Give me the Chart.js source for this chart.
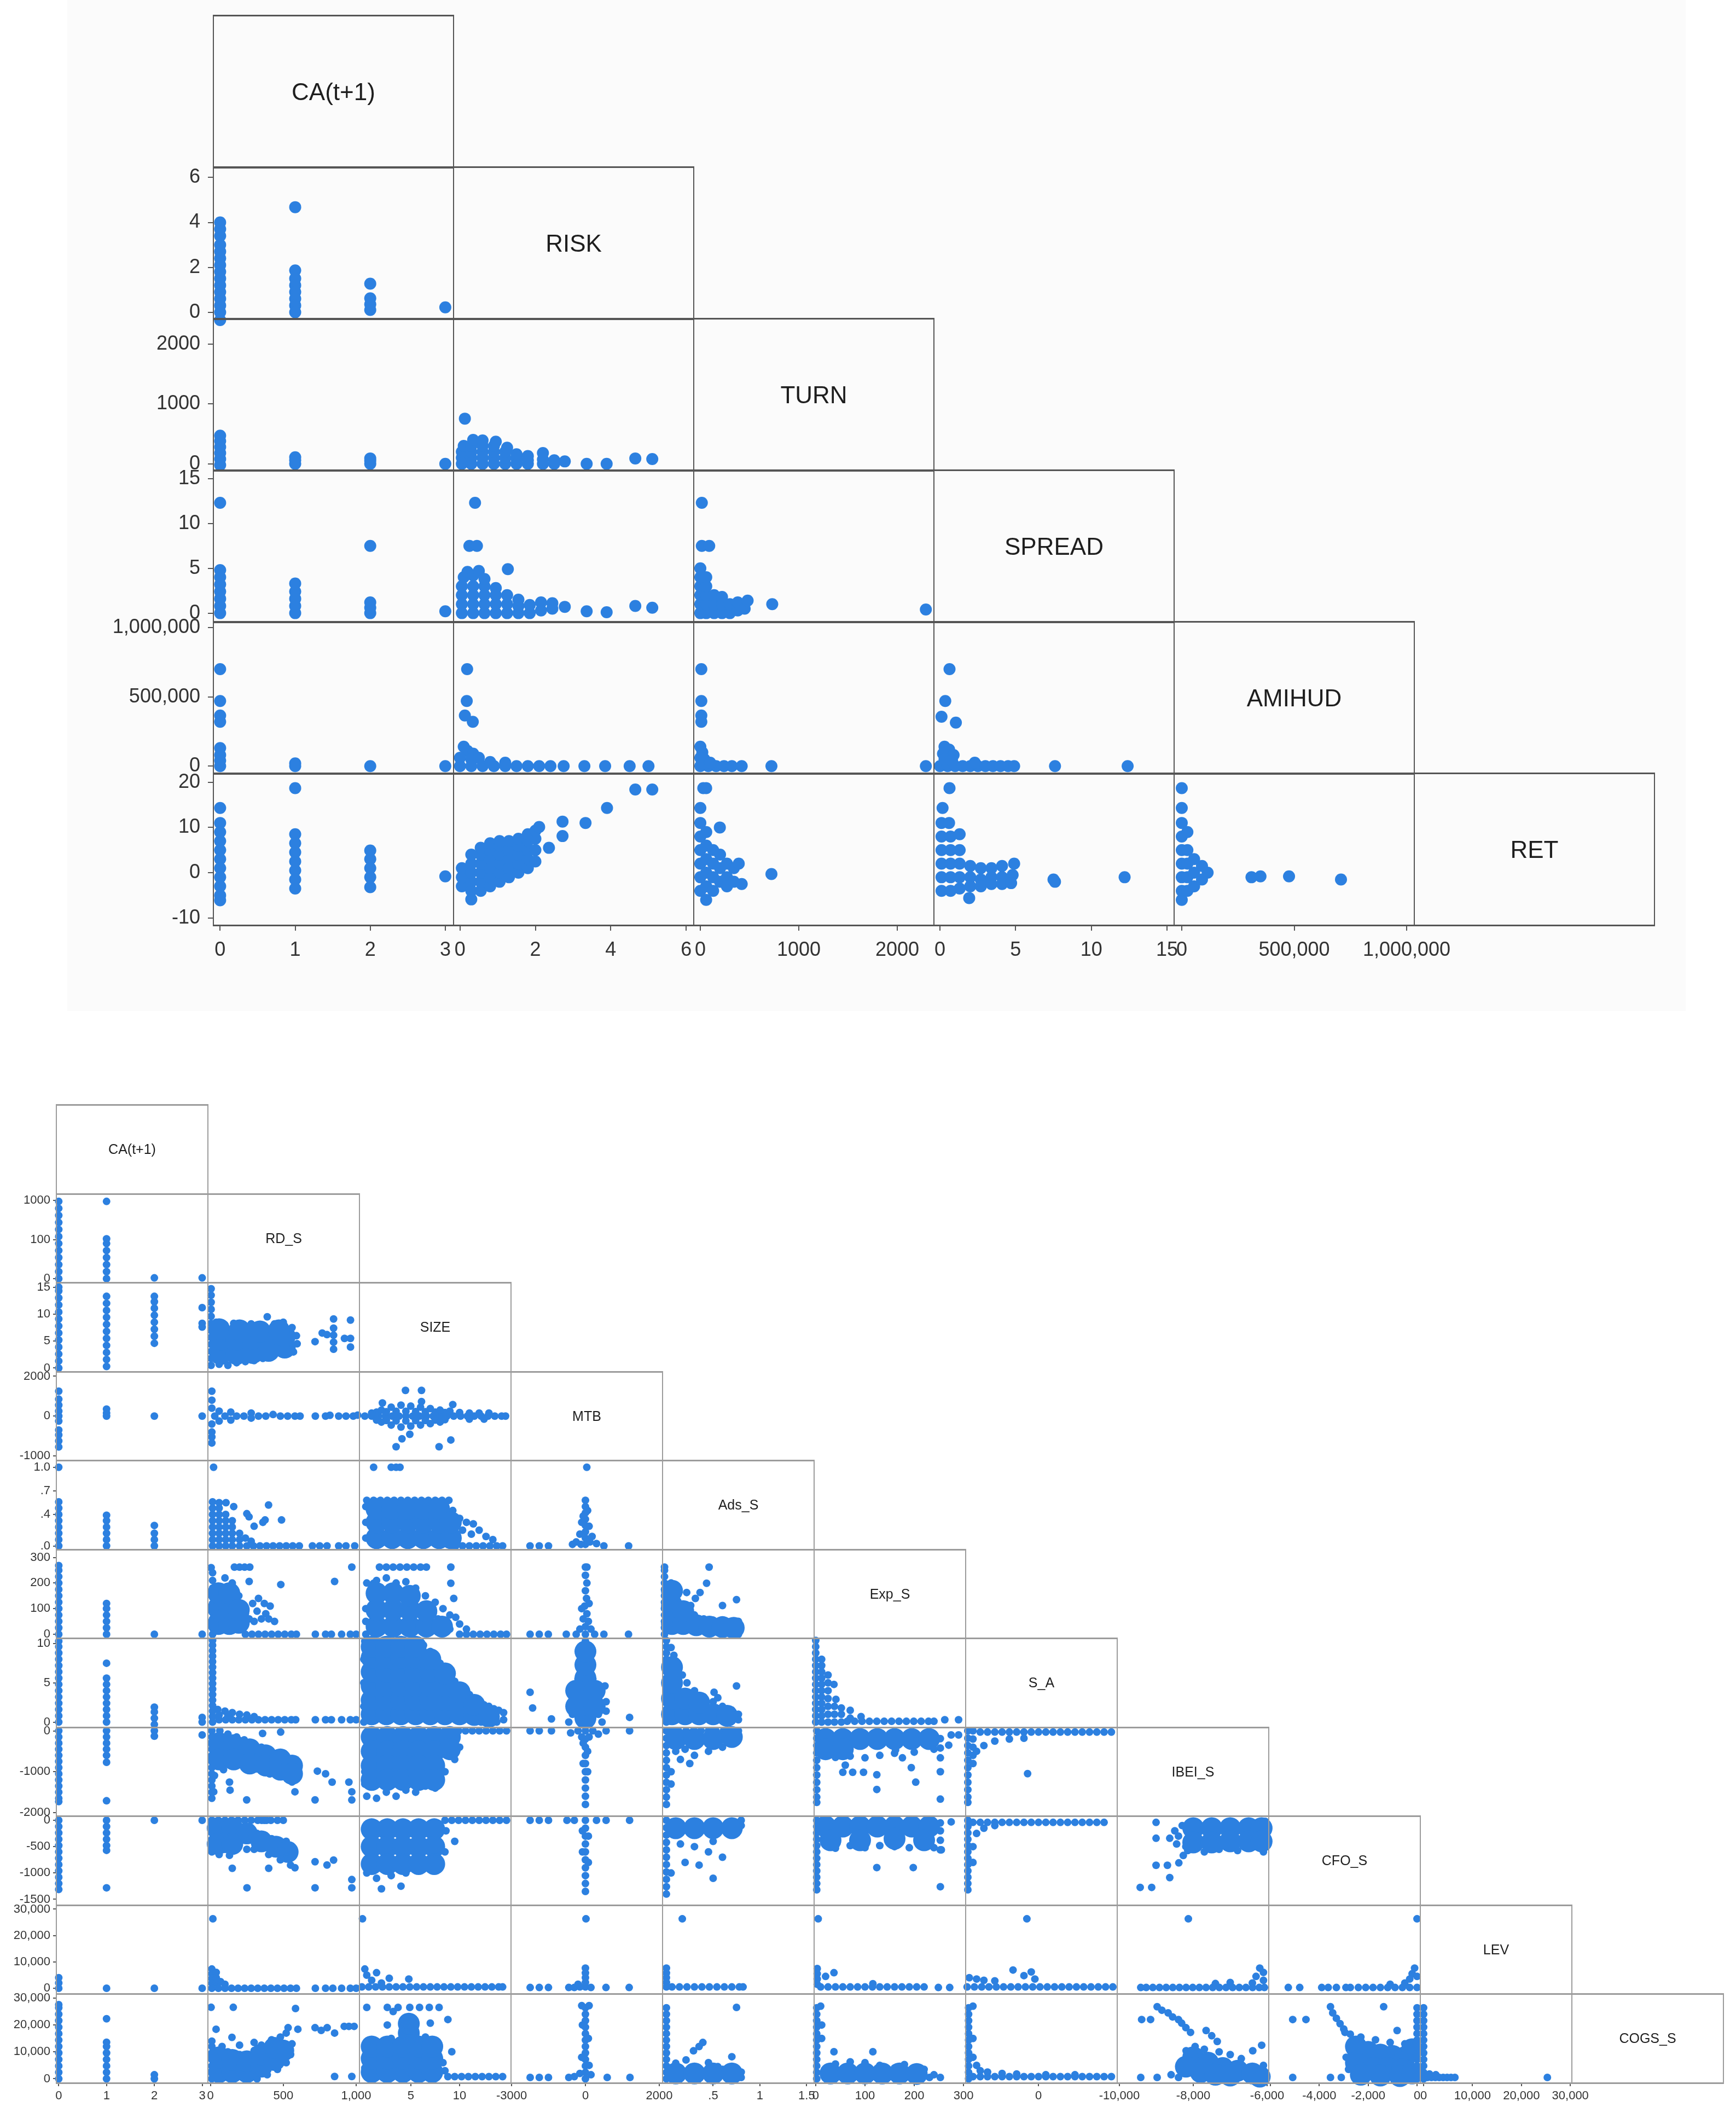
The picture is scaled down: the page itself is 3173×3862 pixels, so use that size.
<!DOCTYPE html>
<html>
<head>
<meta charset="utf-8">
<script src="https://cdn.jsdelivr.net/npm/chart.js@4.4.0/dist/chart.umd.min.js"></script>
<style>
  html, body { margin: 0; padding: 0; background: #fff; }
  body { width: 3173px; height: 3862px; position: relative; overflow: hidden; font-family: "Liberation Sans", Arial, sans-serif; }
  canvas { position: absolute; z-index: 1; }
  .frame { position: absolute; box-sizing: border-box; pointer-events: none; z-index: 5; border-style: solid; }
  .lbl { position: absolute; z-index: 6; display: flex; align-items: center; justify-content: center; color: #1e1e1e; }
  .sheet { position: absolute; z-index: 0; background: #fbfbfb; }
</style>
</head>
<body>
<div class="sheet" style="left:123px;top:0;width:2958px;height:1848px"></div>
<script>
const DOT = '#2c80e0';
const FONT = '"Liberation Sans", Arial, sans-serif';

// ---------- top matrix ----------
const topVars = ['CA(t+1)', 'RISK', 'TURN', 'SPREAD', 'AMIHUD', 'RET'];
const topXMin = [-0.09, -0.17, -67, -0.4, -34000];
const topXMax = [3.11, 6.2, 2372, 15.47, 1034000];
const topXTicks = [[0, 1, 2, 3], [0, 2, 4, 6], [0, 1000, 2000], [0, 5, 10, 15], [0, 500000, 1000000]];
const topXLabels = [['0', '1', '2', '3'], ['0', '2', '4', '6'], ['0', '1000', '2000'], ['0', '5', '10', '15'], ['0', '500,000', '1,000,000']];
const topYMin = [null, -0.3, -112, -1.0, -54000, -11.6];
const topYMax = [null, 6.45, 2420, 15.9, 1039000, 21.9];
const topYTicks = [null, [0, 2, 4, 6], [0, 1000, 2000], [0, 5, 10, 15], [0, 500000, 1000000], [-10, 0, 10, 20]];
const topYLabels = [null, ['0', '2', '4', '6'], ['0', '1000', '2000'], ['0', '5', '10', '15'], ['0', '500,000', '1,000,000'], ['-10', '0', '10', '20']];

const t_RISK_CA = [[0,-0.6],[0,-0.35],[0,0],[0,0.3],[0,0.6],[0,0.9],[0,1.2],[0,1.5],[0,1.8],[0,2.1],[0,2.4],[0,2.7],[0,3.0],[0,3.4],[0,3.7],[0,4.0],[1,4.68],[1,1.86],[1,1.5],[1,1.2],[1,0.9],[1,0.6],[1,0.3],[1,0],[2,1.27],[2,0.62],[2,0.35],[2,0.1],[3,0.22]];
const t_TURN_CA = [[0,-20],[0,80],[0,180],[0,280],[0,380],[0,470],[1,0],[1,60],[1,110],[2,0],[2,50],[2,90],[3,0]];
const t_TURN_RISK = [[0.13,755],[0.05,0],[0.05,100],[0.05,200],[0.1,300],[0.3,0],[0.3,100],[0.3,200],[0.3,300],[0.35,400],[0.6,0],[0.6,100],[0.6,200],[0.6,300],[0.6,390],[0.9,0],[0.9,100],[0.9,200],[0.9,300],[0.95,370],[1.2,0],[1.2,100],[1.2,200],[1.25,270],[1.5,0],[1.5,80],[1.5,160],[1.8,0],[1.8,60],[1.8,130],[2.2,0],[2.2,70],[2.2,180],[2.5,0],[2.5,60],[2.78,40],[3.36,0],[3.89,0],[4.65,90],[5.1,80]];
const t_SPREAD_CA = [[0,12.3],[0,0],[0,0.8],[0,1.6],[0,2.4],[0,3.2],[0,4.0],[0,4.8],[1,0],[1,0.8],[1,1.6],[1,2.4],[1,3.3],[2,7.5],[2,0],[2,0.6],[2,1.2],[3,0.2]];
const t_SPREAD_RISK = [[0.4,12.3],[0.25,7.5],[0.45,7.5],[1.27,4.9],[0.05,0],[0.05,1],[0.05,2],[0.05,3],[0.1,4],[0.2,4.6],[0.35,4.2],[0.5,4.7],[0.35,0],[0.35,1],[0.35,2],[0.35,3],[0.65,0],[0.65,1],[0.65,2],[0.65,3],[0.65,3.8],[0.95,0],[0.95,1],[0.95,2],[0.95,2.8],[1.25,0],[1.25,1],[1.25,2],[1.55,0],[1.55,0.8],[1.55,1.5],[1.85,0],[1.85,0.9],[2.15,0.3],[2.15,1.2],[2.45,0.5],[2.45,1.1],[2.78,0.7],[3.36,0.2],[3.89,0.1],[4.65,0.8],[5.1,0.6]];
const t_SPREAD_TURN = [[15,12.3],[15,7.5],[90,7.5],[0,0],[0,1],[0,2],[0,3],[0,4],[0,5],[60,0],[60,1],[60,2],[60,3],[60,4],[140,0],[140,1],[140,2],[220,0],[220,1],[220,1.8],[300,0],[300,1],[380,0.3],[380,1.2],[450,0.5],[480,1.4],[730,1],[2290,0.4]];
const t_AMIHUD_CA = [[0,700000],[0,470000],[0,365000],[0,320000],[0,130000],[0,80000],[0,40000],[0,0],[1,0],[1,20000],[2,0],[3,0]];
const t_AMIHUD_RISK = [[0.19,700000],[0.18,470000],[0.13,365000],[0.34,320000],[0.1,140000],[0.2,110000],[0.35,90000],[0,60000],[0.3,50000],[0.5,60000],[0,0],[0.3,0],[0.6,0],[0.9,0],[1.2,0],[1.5,0],[1.8,0],[2.1,0],[2.4,0],[0.8,30000],[1.2,25000],[2.75,0],[3.3,0],[3.85,0],[4.5,0],[5.0,0]];
const t_AMIHUD_TURN = [[10,700000],[10,470000],[10,365000],[10,320000],[0,140000],[20,100000],[0,60000],[40,50000],[0,0],[80,0],[160,0],[240,0],[320,0],[420,0],[100,25000],[722,0],[2290,0]];
const t_AMIHUD_SPREAD = [[0.63,700000],[0.35,470000],[0.1,356000],[1.05,314000],[0.3,140000],[0.6,120000],[0.2,90000],[0.9,80000],[0,0],[0.5,0],[1,0],[1.5,0],[2,0],[2.5,0],[3,0],[3.5,0],[4,0],[4.5,0],[4.9,0],[0.3,50000],[0.8,40000],[2.3,25000],[7.6,0],[12.4,0]];
const t_RET_CA = [[0,14.3],[0,11],[0,9],[0,7],[0,5],[0,3],[0,1],[0,-1],[0,-3],[0,-5],[0,-6.1],[1,18.7],[1,8.5],[1,6.5],[1,4.5],[1,2.5],[1,0.5],[1,-1.5],[1,-3.5],[2,4.9],[2,3],[2,1],[2,-1],[2,-3.2],[3,-0.8]];
const t_RET_RISK = [[0.05,-3],[0.05,-1],[0.05,1],[0.3,-5.9],[0.3,-4],[0.3,-2],[0.3,0],[0.3,2],[0.3,4],[0.55,-4],[0.55,-2],[0.55,0],[0.55,2],[0.55,4],[0.55,5.5],[0.8,-3],[0.8,-1],[0.8,1],[0.8,3],[0.8,5],[0.8,6.5],[1.05,-2],[1.05,0],[1.05,2],[1.05,4],[1.05,6],[1.05,7],[1.3,-1],[1.3,1],[1.3,3],[1.3,5],[1.3,7],[1.55,0],[1.55,2],[1.55,4],[1.55,6],[1.55,7.5],[1.8,1],[1.8,3],[1.8,5],[1.8,7],[1.8,8.5],[2.0,2.5],[2.0,5],[2.0,7.5],[2.0,9.3],[2.1,10.1],[2.36,5.5],[2.72,11.3],[2.72,8.1],[3.33,11],[3.9,14.3],[4.65,18.4],[5.1,18.4]];
const t_RET_TURN = [[59,18.7],[30,18.7],[0,14.3],[198,10],[0,11],[0,8],[0,5],[0,2],[0,-1],[0,-4],[59,-6],[60,9],[60,6],[60,3],[60,0],[60,-3],[130,5],[130,2],[130,-1],[130,-4],[200,4],[200,1],[200,-2],[270,2],[270,-1],[270,-3],[340,1],[340,-2],[390,2],[420,-2.5],[722,-0.3]];
const t_RET_SPREAD = [[0.63,18.7],[0.17,14.3],[0.1,11],[0.6,11],[0.1,8],[0.7,8],[1.3,8.5],[0.1,5],[0.7,5],[1.3,5],[0.1,2],[0.7,2],[1.3,2],[0.1,-1],[0.7,-1],[1.3,-1],[0.1,-4],[0.7,-4],[1.3,-3.5],[1.93,-5.6],[2,1.5],[2,-1],[2,-3],[2.7,1],[2.7,-1.5],[2.7,-3],[3.4,1],[3.4,-1],[3.4,-2.5],[4.1,1.5],[4.1,-1],[4.1,-2.5],[4.9,2],[4.8,-0.5],[4.7,-2.3],[7.5,-1.5],[7.6,-2],[12.2,-1]];
const t_RET_AMIHUD = [[0,18.7],[0,14.3],[0,11],[0,8],[0,5],[0,2],[0,-1],[0,-4],[0,-6],[25000,9],[25000,5],[25000,2],[25000,-1],[25000,-4],[55000,3],[55000,0],[55000,-3],[90000,1.5],[90000,-1.5],[115000,0],[310000,-1],[350000,-0.8],[477000,-0.8],[708000,-1.5]];

const topCells = [
  [1, 0, t_RISK_CA],
  [2, 0, t_TURN_CA], [2, 1, t_TURN_RISK],
  [3, 0, t_SPREAD_CA], [3, 1, t_SPREAD_RISK], [3, 2, t_SPREAD_TURN],
  [4, 0, t_AMIHUD_CA], [4, 1, t_AMIHUD_RISK], [4, 2, t_AMIHUD_TURN], [4, 3, t_AMIHUD_SPREAD],
  [5, 0, t_RET_CA], [5, 1, t_RET_RISK], [5, 2, t_RET_TURN], [5, 3, t_RET_SPREAD], [5, 4, t_RET_AMIHUD]
];

// ---------- bottom matrix ----------
const botVars = ['CA(t+1)', 'RD_S', 'SIZE', 'MTB', 'Ads_S', 'Exp_S', 'S_A', 'IBEI_S', 'CFO_S', 'LEV', 'COGS_S'];
const botXMin = [-0.05, -17, -0.25, -2015, -0.041, -3.3, -10, -10059, -6067, -671];
const botXMax = [3.12, 1022.5, 15.26, 2089, 1.58, 304.4, 10.8, -5956, 134, 30313];
const botXTicks = [[0, 1, 2, 3], [0, 500, 1000], [5, 10], [-2000, 0, 2000], [0.5, 1, 1.5], [0, 100, 200, 300], [0], [-10000, -8000, -6000], [-6000, -4000, -2000, 0], [0, 10000, 20000, 30000]];
const botXLabels = [['0', '1', '2', '3'], ['0', '500', '1,000'], ['5', '10'], ['-3000', '0', '2000'], ['.5', '1', '1.5'], ['0', '100', '200', '300'], ['0'], ['-10,000', '-8,000', '-6,000'], ['', '-4,000', '-2,000', '0'], ['0', '10,000', '20,000', '30,000']];
const botYMin = [null, -49, -0.66, -2219, -0.045, -15, -0.66, -2080, -1609, -2070, -1530];
const botYMax = [null, 1087, 15.87, 2233, 1.089, 331, 10.7, 87, 83, 31550, 31630];
const botYTicks = [null, [0, 500, 1000], [0, 5, 10, 15], [-2000, 0, 2000], [0, 0.4, 0.7, 1], [0, 100, 200, 300], [0, 5, 10], [-2000, -1000, 0], [-1500, -1000, -500, 0], [0, 10000, 20000, 30000], [0, 10000, 20000, 30000]];
const botYLabels = [null, ['0', '100', '1000'], ['0', '5', '10', '15'], ['-1000', '0', '2000'], ['.0', '.4', '.7', '1.0'], ['0', '100', '200', '300'], ['0', '5', '10'], ['-2000', '-1000', '0'], ['-1500', '-1000', '-500', '0'], ['0', '10,000', '20,000', '30,000'], ['0', '10,000', '20,000', '30,000']];

const b_RD_CA = [[0,0],[0,90],[0,180],[0,270],[0,360],[0,450],[0,540],[0,630],[0,720],[0,810],[0,900],[0,990],[1,990],[1,0],[1,90],[1,180],[1,270],[1,360],[1,450],[1,510],[2,10],[3,10]];

const b_SIZE_CA = [[0,0],[0,1.3],[0,2.6],[0,3.9],[0,5.2],[0,6.5],[0,7.8],[0,9.1],[0,10.4],[0,11.7],[0,13],[0,14.3],[0,15],[1,0.3],[1,1.6],[1,2.9],[1,4.2],[1,5.5],[1,6.8],[1,8.1],[1,9.4],[1,10.7],[1,12],[1,13.3],[2,4.6],[2,5.9],[2,7.2],[2,8.5],[2,9.8],[2,11.1],[2,12.3],[2,13.3],[3,11.2],[3,8.3],[3,7.6]];
const b_SIZE_RD = [[5,0.5],[5,1.8],[5,3.1],[5,4.4],[5,5.7],[5,7],[5,8.3],[5,9.6],[5,10.9],[5,12.2],[5,13.5],[5,14.7],[40,8.5],[100,8],[160,8.3],[220,7.8],[280,8.2],[340,8],[390,9.5],[440,8.2],[500,8.5],[560,7.5],[590,6],[595,4.5],[570,3],[60,0.7],[120,0.5],[180,1],[240,1.2],[300,1.4],[360,1.8],[420,2.4],[480,2.8],[540,3.2],[718,4.9],[767,6.5],[800,6.2],[845,3.5],[845,4.8],[845,6.1],[845,7.4],[845,9.1],[920,5.5],[961,8.9],[961,5.5],[961,3.9]];
const b_SIZE_RD_dense = [[70,2.6],[70,5.3],[180,2.6],[180,5.3],[290,2.8],[290,5.5],[400,3.2],[400,5.8],[510,3.8],[510,5.9],[60,7.2],[200,7],[340,6.8],[470,7]];

const b_MTB_CA = [[0,1250],[0,850],[0,550],[0,250],[0,0],[0,-250],[0,-700],[0,-950],[0,-1250],[0,-1550],[1,350],[1,150],[1,0],[2,0],[3,0]];
const b_MTB_RD = [[10,1250],[10,800],[10,400],[10,-400],[10,-800],[10,-1050],[10,-1350],[30,0],[60,250],[60,-250],[100,0],[140,200],[140,-200],[180,0],[230,0],[280,150],[280,-100],[330,0],[380,0],[430,80],[480,0],[530,0],[580,0],[615,0],[720,0],[790,0],[820,40],[880,0],[930,0],[980,0],[1010,50]];
const b_MTB_SIZE = [[0.3,0],[1,0],[1.7,0],[2.4,0],[3.1,0],[3.8,0],[4.5,0],[5.2,0],[5.9,0],[6.6,0],[7.3,0],[8,0],[8.7,0],[9.4,0],[10.1,0],[10.8,0],[11.5,0],[12.2,0],[12.9,0],[13.6,0],[14.3,0],[14.7,0],[1.5,200],[2.5,220],[3.5,240],[4.5,240],[5.5,230],[6.5,220],[7.5,200],[8.5,180],[1.5,-200],[2.5,-220],[3.5,-240],[4.5,-240],[5.5,-230],[6.5,-220],[7.5,-200],[8.5,-180],[2,300],[3,450],[4,550],[5,500],[6,450],[7,380],[8,300],[9,250],[2,-300],[3,-450],[4,-550],[5,-500],[6,-450],[7,-380],[8,-300],[10,180],[11,150],[12,150],[13,150],[11,-150],[12.5,-150],[1,150],[4.46,1290],[6.1,1290],[2.1,660],[6.1,730],[9.3,580],[4.9,-915],[4.1,-1140],[3.5,-1540],[7.9,-1540],[9.1,-1200]];

const b_ADS_CA = [[0,1.0],[0,0],[0,0.08],[0,0.16],[0,0.24],[0,0.32],[0,0.4],[0,0.48],[0,0.56],[1,0],[1,0.08],[1,0.16],[1,0.24],[1,0.32],[1,0.39],[2,0],[2,0.08],[2,0.16],[2,0.26]];
const b_ADS_RD = [[22,1.0],[15,0],[15,0.08],[15,0.16],[15,0.24],[15,0.32],[15,0.4],[15,0.48],[15,0.56],[60,0],[60,0.08],[60,0.16],[60,0.24],[60,0.32],[60,0.4],[60,0.48],[60,0.55],[105,0],[105,0.08],[105,0.16],[105,0.24],[105,0.32],[105,0.4],[107,0.55],[150,0],[150,0.08],[150,0.16],[150,0.24],[150,0.32],[200,0],[200,0.08],[200,0.16],[250,0],[295,0],[340,0],[385,0],[430,0],[475,0],[520,0],[565,0],[610,0],[700,0],[750,0],[800,0],[880,0],[930,0],[990,0],[160,0.5],[265,0.37],[250,0.41],[360,0.3],[375,0.33],[399,0.52],[488,0.33],[300,0.25],[240,0.1],[280,0.06]];
const b_ADS_SIZE = [[0.5,0.58],[1.2,0.58],[1.9,0.58],[2.6,0.58],[3.3,0.58],[4,0.58],[4.7,0.58],[5.4,0.58],[6.1,0.58],[6.8,0.58],[7.5,0.58],[8.2,0.58],[8.9,0.58],[9.6,0],[10.3,0],[11,0],[11.7,0],[12.4,0],[13.1,0],[13.8,0],[14.4,0],[10,0.35],[10.7,0.3],[11.4,0.28],[12,0.2],[12.7,0.12],[13.4,0.08],[10.3,0.2],[11.2,0.15],[0.4,0.1],[0.4,0.3],[0.4,0.5],[9.3,0.45],[9.5,0.25],[1.2,1.0],[3.0,1.0],[3.5,1.0],[3.9,1.0]];
const b_ADS_SIZE_dense = [[1.5,0.1],[1.5,0.3],[1.5,0.47],[3.1,0.1],[3.1,0.3],[3.1,0.47],[4.7,0.1],[4.7,0.3],[4.7,0.47],[6.3,0.1],[6.3,0.3],[6.3,0.47],[7.9,0.1],[7.9,0.3],[7.9,0.47],[9.1,0.1],[9.1,0.3]];
const b_ADS_MTB = [[37,1.0],[0,0.58],[0,0.5],[0,0.42],[0,0.34],[0,0.26],[0,0.18],[0,0.1],[0,0.02],[-100,0.3],[-150,0.15],[-250,0.05],[100,0.25],[180,0.12],[-120,0.02],[120,0.05],[-350,0.02],[300,0.03],[-1500,0],[-1250,0],[-1000,0],[500,0],[1170,0],[60,0.45],[-60,0.38]];

const b_EXP_CA = [[0,0],[0,25],[0,50],[0,75],[0,100],[0,125],[0,150],[0,175],[0,200],[0,225],[0,250],[0,268],[1,0],[1,25],[1,50],[1,75],[1,100],[1,120],[2,0],[3,0]];
const b_EXP_RD = [[5,260],[165,262],[200,262],[235,262],[270,262],[970,262],[15,0],[15,30],[15,60],[15,90],[15,120],[15,150],[15,180],[15,210],[15,240],[100,220],[150,200],[195,150],[215,110],[240,80],[240,40],[240,0],[266,206],[483,194],[852,206],[290,120],[330,140],[370,120],[410,110],[320,90],[380,80],[266,60],[300,50],[350,60],[400,60],[440,50],[285,0],[330,0],[375,0],[420,0],[465,0],[510,0],[555,0],[590,0],[720,0],[790,0],[830,0],[900,0],[960,0],[1000,0]];
const b_EXP_RD_dense = [[55,40],[55,100],[55,160],[130,40],[130,100],[130,160],[195,45],[195,95]];
const b_EXP_SIZE = [[1.8,262],[2.5,262],[3.2,262],[3.9,262],[4.6,262],[5.3,262],[6,262],[6.6,262],[9.1,262],[1.2,199],[9.1,199],[9.4,140],[9.6,66],[0.5,200],[1.5,210],[2.5,220],[3.5,200],[4.5,205],[5.5,180],[6.5,150],[7.5,125],[8.3,100],[9,75],[10,40],[10.7,20],[10,0],[10.7,0],[11.4,0],[12.1,0],[12.8,0],[13.5,0],[14.2,0],[14.8,0],[0.4,100],[0.4,50],[0.4,0],[7.8,60],[9,20]];
const b_EXP_SIZE_dense = [[1.5,30],[1.5,95],[1.5,160],[3.2,30],[3.2,95],[3.2,160],[4.9,30],[4.9,95],[4.9,150],[6.6,30],[6.6,90],[8.2,30]];
const b_EXP_MTB = [[0,262],[40,262],[0,230],[40,200],[0,170],[30,140],[-20,110],[40,80],[-60,60],[80,50],[0,30],[-150,20],[150,20],[-250,0],[250,0],[0,0],[-518,0],[-1498,0],[-1250,0],[-1005,0],[500,0],[1167,0],[-100,100],[100,120]];
const b_EXP_ADS = [[-0.02,0],[-0.02,25],[-0.02,50],[-0.02,75],[-0.02,100],[-0.02,125],[-0.02,150],[-0.02,175],[-0.02,200],[-0.02,225],[-0.02,250],[-0.02,262],[0.05,200],[0.08,160],[0.12,130],[0.16,110],[0.2,90],[0.26,112],[0.3,75],[0.4,60],[0.5,55],[0.6,50],[0.7,45],[0.77,50],[0.77,20],[0.77,0],[0.457,262],[0.43,199],[0.217,163],[0.36,163],[0.31,140],[0.6,112],[0.75,135]];
const b_EXP_ADS_dense = [[0.06,40],[0.06,110],[0.06,170],[0.18,40],[0.18,90],[0.32,35],[0.46,30],[0.6,28],[0.72,25]];

const b_SA_CA = [[0,0],[0,0.8],[0,1.6],[0,2.4],[0,3.2],[0,4],[0,4.8],[0,5.6],[0,6.4],[0,7.2],[0,8],[0,8.8],[0,9.6],[0,10.3],[1,7.5],[1,0],[1,0.8],[1,1.6],[1,2.4],[1,3.2],[1,4],[1,4.8],[1,5.6],[2,-0.3],[2,0.5],[2,1.3],[2,1.9],[3,0.6],[3,0]];
const b_SA_RD = [[15,0],[15,0.7],[15,1.4],[15,2.1],[15,2.8],[15,3.5],[15,4.2],[15,4.9],[15,5.6],[15,6.3],[15,7],[15,7.7],[15,8.4],[15,9.1],[15,9.8],[15,10.4],[60,0.3],[105,0.3],[150,0.3],[195,0.3],[240,0.3],[285,0.3],[330,0.3],[375,0.3],[420,0.3],[465,0.3],[510,0.3],[555,0.3],[585,0.3],[50,1.6],[100,1.4],[150,1.2],[200,1.0],[250,0.9],[60,0.9],[120,0.8],[300,0.7],[720,0.3],[790,0.3],[830,0.3],[900,0.3],[960,0.3],[1000,0.3]];
const b_SA_SIZE = [[0.3,10.3],[1.2,10.3],[2.1,10.3],[3,10.3],[3.9,10.3],[4.8,10.3],[5.7,10.3],[6.3,9.8],[7,9],[7.6,8.2],[8,7.5],[8.6,6.7],[9,6],[9.5,5.2],[10,4.5],[10.5,4],[11,3.5],[11.5,3],[12,2.5],[12.5,2.2],[13,2],[13.5,1.7],[14,1.5],[14.5,1.2],[14.5,0.3],[13.8,0],[13,0],[12.2,0],[0.2,5],[0.2,2],[0.2,0],[0.2,8]];
const b_SA_SIZE_dense = [[1,1],[1,2.8],[1,4.6],[1,6.4],[1,8.2],[1,9.6],[2.5,1],[2.5,2.8],[2.5,4.6],[2.5,6.4],[2.5,8.2],[2.5,9.6],[4,1],[4,2.8],[4,4.6],[4,6.4],[4,8.2],[4,9.6],[5.5,1],[5.5,2.8],[5.5,4.6],[5.5,6.4],[5.5,8.2],[5.5,9.6],[7,1],[7,2.8],[7,4.6],[7,6.4],[7,8],[8.5,1],[8.5,2.8],[8.5,4.6],[8.5,6.2],[10,1],[10,2.6],[10,3.8],[11.5,0.9],[11.5,2.2],[13,0.7]];
const b_SA_MTB = [[0,10.3],[-150,9],[150,9],[-150,7],[150,7.5],[-200,5.5],[200,5.5],[-350,3],[350,3],[-350,1],[350,1],[-450,0],[450,0],[-1498,3.8],[-1430,1.8],[-920,0.4],[530,4.6],[560,2.6],[560,1.4],[1196,0.6]];
const b_SA_MTB_dense = [[0,0.5],[0,2.2],[0,3.9],[0,5.6],[0,7.3],[0,9],[-250,2],[250,2],[-250,4],[250,4]];
const b_SA_ADS = [[0,0],[0,0.8],[0,1.6],[0,2.4],[0,3.2],[0,4],[0,4.8],[0,5.6],[0,6.4],[0,7.2],[0,8],[0,8.8],[0,9.6],[0,10.4],[0.08,8.5],[0.12,7],[0.17,6],[0.22,5],[0.3,4],[0.4,3.2],[0.5,2.6],[0.6,2],[0.7,1.5],[0.77,1],[0.77,0.3],[0.75,4.6],[0.51,3.8],[0.55,3.1],[0.05,9.5],[0.04,7.5]];
const b_SA_ADS_dense = [[0.06,1],[0.06,3],[0.06,5],[0.06,7],[0.2,1],[0.2,3],[0.35,1],[0.35,2.5],[0.5,1],[0.65,0.8]];
const b_SA_EXP = [[0,0],[0,0.8],[0,1.6],[0,2.4],[0,3.2],[0,4],[0,4.8],[0,5.6],[0,6.4],[0,7.2],[0,8],[0,8.8],[0,9.6],[0,10.4],[12,0],[12,0.8],[12,1.6],[12,2.4],[12,3.2],[12,4],[12,4.8],[12,5.6],[12,6.4],[12,7.2],[12,8],[25,0],[25,1],[25,2],[25,3],[25,4],[25,5],[25,6],[37,4.8],[41,2.9],[38,0],[38,1],[38,2],[52,0],[52,1],[52,1.8],[70,1.5],[70,0.5],[92,0.7],[64,0.1],[79,0.1],[94,0.1],[109,0.1],[124,0.1],[139,0.1],[154,0.1],[169,0.1],[184,0.1],[199,0.1],[214,0.1],[229,0.1],[240,0.1],[262,0.3],[290,0.3]];

const b_IBEI_CA = [[0,0],[0,-150],[0,-300],[0,-450],[0,-600],[0,-750],[0,-900],[0,-1050],[0,-1200],[0,-1350],[0,-1500],[0,-1650],[0,-1730],[1,0],[1,-150],[1,-300],[1,-450],[1,-600],[1,-770],[1,-1710],[2,0],[2,-130],[3,-100]];
const b_IBEI_RD = [[10,0],[10,-150],[10,-300],[10,-450],[10,-600],[10,-750],[10,-900],[10,-1050],[10,-1200],[10,-1350],[10,-1500],[10,-1650],[65,0],[120,-80],[180,-150],[232,-221],[300,-320],[350,-400],[400,-460],[460,-550],[520,-630],[567,-700],[28,-1094],[90,-950],[147,-855],[230,-900],[320,-930],[400,-935],[480,-1050],[567,-1174],[358,-64],[482,-30],[23,-1490],[131,-1253],[135,-1450],[249,-1688],[407,-1054],[530,-1000],[560,-1250],[580,-1490],[734,-985],[790,-1050],[835,-1253],[950,-1253],[970,-1490],[970,-1690],[718,-1688]];
const b_IBEI_RD_dense = [[60,-300],[60,-700],[160,-350],[160,-700],[270,-450],[270,-800],[380,-600],[380,-850],[480,-700],[480,-950],[560,-850],[560,-1050]];
const b_IBEI_SIZE = [[8.5,0],[9.2,0],[9.9,0],[10.6,0],[11.3,0],[12,0],[12.7,0],[13.4,0],[14.1,0],[14.8,0],[0.5,-1600],[1.5,-1650],[2.5,-1500],[3.5,-1600],[4.5,-1450],[5.5,-1500],[6.5,-1350],[7.5,-1400],[8.5,-1000],[9.5,-700],[10,-400],[0.3,-1000],[0.3,-500],[0.3,-1300]];
const b_IBEI_SIZE_dense = [[1,-150],[1,-500],[1,-850],[1,-1200],[2.6,-150],[2.6,-500],[2.6,-850],[2.6,-1200],[4.2,-150],[4.2,-500],[4.2,-850],[4.2,-1200],[5.8,-150],[5.8,-500],[5.8,-850],[5.8,-1200],[7.4,-150],[7.4,-500],[7.4,-850],[7.4,-1200],[9,-150],[9,-450]];
const b_IBEI_MTB = [[0,0],[0,-200],[0,-400],[0,-600],[0,-800],[0,-1000],[0,-1200],[0,-1400],[0,-1600],[0,-1800],[-60,-300],[60,-500],[-60,-800],[60,-1000],[-100,-150],[100,-150],[-200,0],[200,0],[-1498,0],[-1250,0],[-920,0],[560,0],[1196,0],[-400,-50],[350,-80]];
const b_IBEI_ADS = [[0,0],[0,-180],[0,-360],[0,-540],[0,-720],[0,-900],[0,-1080],[0,-1260],[0,-1440],[0,-1620],[0,-1800],[0.05,0],[0.13,0],[0.21,0],[0.29,0],[0.37,0],[0.45,0],[0.53,0],[0.61,0],[0.69,0],[0.77,0],[0.1,-500],[0.2,-450],[0.3,-600],[0.45,-500],[0.25,-800],[0.15,-700],[0.5,-350],[0.6,-400],[0.05,-1000],[0.05,-1300]];
const b_IBEI_ADS_dense = [[0.1,-200],[0.3,-200],[0.5,-200],[0.7,-150]];
const b_IBEI_EXP = [[2,0],[2,-180],[2,-360],[2,-540],[2,-720],[2,-900],[2,-1080],[2,-1260],[2,-1440],[2,-1620],[2,-1750],[15,-600],[40,-650],[70,-620],[100,-660],[130,-600],[160,-550],[200,-520],[240,-450],[270,-350],[60,-839],[55,-1013],[75,-1013],[97,-1013],[124,-1073],[124,-1433],[162,-470],[176,-660],[194,-899],[203,-1255],[231,-303],[253,-190],[253,-420],[253,-660],[253,-1000],[253,-1670],[275,-100],[290,-100]];
const b_IBEI_EXP_dense = [[20,-200],[55,-200],[90,-200],[125,-200],[160,-200],[195,-200],[230,-200],[20,-450],[55,-450]];
const b_IBEI_SA = [[-9.7,0],[-9.7,-180],[-9.7,-360],[-9.7,-540],[-9.7,-720],[-9.7,-900],[-9.7,-1080],[-9.7,-1260],[-9.7,-1440],[-9.7,-1620],[-9.7,-1750],[-9,0],[-9,-200],[-9,-400],[-9,-600],[-9,-800],[-8,-30],[-7,-30],[-6,-30],[-5,-30],[-4,-30],[-3,-30],[-2,-30],[-1,-30],[0,-30],[1,-30],[2,-30],[3,-30],[4,-30],[5,-30],[6,-30],[7,-30],[8,-30],[9,-30],[10,-30],[-7.5,-360],[-6,-250],[-4,-200],[-2,-180],[-1.5,-1047],[-8.5,-500]];

const b_CFO_CA = [[0,0],[0,-120],[0,-240],[0,-360],[0,-480],[0,-600],[0,-720],[0,-840],[0,-960],[0,-1080],[0,-1200],[0,-1312],[1,0],[1,-120],[1,-240],[1,-360],[1,-480],[1,-570],[1,-1281],[2,0],[3,0]];
const b_CFO_RD = [[10,0],[55,0],[100,0],[145,0],[190,0],[235,0],[280,0],[325,0],[370,0],[415,0],[460,0],[500,0],[10,-120],[10,-240],[10,-360],[10,-480],[10,-600],[250,-550],[300,-550],[400,-650],[480,-750],[550,-850],[580,-900],[570,-650],[520,-400],[420,-350],[320,-250],[131,-664],[150,-911],[251,-1281],[400,-911],[718,-786],[800,-848],[845,-755],[718,-1281],[970,-1125],[970,-1281],[100,-550],[60,-650],[352,0],[385,0]];
const b_CFO_RD_dense = [[50,-150],[50,-450],[150,-150],[150,-450],[250,-250],[350,-400],[450,-500],[530,-600]];
const b_CFO_SIZE = [[8.5,0],[9.2,0],[9.9,0],[10.6,0],[11.3,0],[12,0],[12.7,0],[13.4,0],[14.1,0],[14.8,0],[0.5,-1000],[1.5,-1100],[3,-1050],[4.5,-1000],[6,-950],[7.5,-900],[8.5,-600],[9.5,-400],[2,-1300],[4,-1250],[8.6,-200]];
const b_CFO_SIZE_dense = [[1,-170],[1,-500],[1,-830],[2.6,-170],[2.6,-500],[2.6,-830],[4.2,-170],[4.2,-500],[4.2,-830],[5.8,-170],[5.8,-500],[5.8,-830],[7.4,-170],[7.4,-500],[7.4,-830]];
const b_CFO_MTB = [[0,0],[0,-150],[0,-300],[0,-450],[0,-600],[0,-750],[0,-900],[0,-1050],[0,-1200],[0,-1350],[-80,-200],[80,-300],[-80,-600],[80,-800],[-1498,0],[-1250,0],[-1000,0],[-500,0],[-300,0],[300,0],[560,0],[1196,0]];
const b_CFO_ADS = [[0,0],[0,-140],[0,-280],[0,-420],[0,-560],[0,-700],[0,-840],[0,-980],[0,-1120],[0,-1260],[0,-1400],[0.15,-450],[0.3,-500],[0.5,-400],[0.45,-600],[0.2,-800],[0.35,-850],[0.6,-700],[0.05,-1000],[0.5,-1100],[0.8,0],[0.8,-100]];
const b_CFO_ADS_dense = [[0.1,-150],[0.3,-150],[0.5,-150],[0.7,-150]];
const b_CFO_EXP = [[2,0],[2,-120],[2,-240],[2,-360],[2,-480],[2,-600],[2,-720],[2,-840],[2,-960],[2,-1080],[2,-1200],[2,-1318],[40,-530],[70,-480],[100,-520],[130,-480],[160,-500],[190,-520],[240,-520],[255,-560],[124,-897],[198,-897],[231,-180],[253,-50],[253,-200],[253,-380],[253,-560],[253,-1260],[275,-30]];
const b_CFO_EXP_dense = [[20,-120],[55,-120],[90,-120],[125,-120],[160,-120],[195,-120],[230,-120],[30,-380],[90,-380],[160,-350],[220,-380]];
const b_CFO_SA = [[-9.7,0],[-9.7,-120],[-9.7,-240],[-9.7,-360],[-9.7,-480],[-9.7,-600],[-9.7,-720],[-9.7,-840],[-9.7,-960],[-9.7,-1080],[-9.7,-1200],[-9.7,-1318],[-9,-40],[-8,-40],[-7,-40],[-6,-40],[-5,-40],[-4,-40],[-3,-40],[-2,-40],[-1,-40],[0,-40],[1,-40],[2,-40],[3,-40],[4,-40],[5,-40],[6,-40],[7,-40],[8,-40],[9,-40],[-8.5,-250],[-7.5,-150],[-6,-100],[-9,-500],[-9,-800]];
const b_CFO_IBEI = [[-8300,-100],[-8400,-300],[-8200,-500],[-7700,-600],[-7300,-550],[-6800,-574],[-6440,-527],[-6100,-600],[-6050,-20],[-7000,-20],[-9437,-1273],[-9126,-1273],[-8637,-1087],[-9007,-854],[-8700,-854],[-8391,-808],[-8270,-668],[-9007,-341],[-8637,-341],[-9007,-40],[-8148,-574],[-8500,-200],[-8450,-450]];
const b_CFO_IBEI_dense = [[-8000,-150],[-7500,-150],[-7000,-150],[-6500,-150],[-6150,-150],[-8000,-420],[-7500,-420],[-7000,-400],[-6500,-400],[-6150,-400]];

const b_LEV_CA = [[0,0],[0,2000],[0,4000],[1,0],[2,0],[3,0]];
const b_LEV_RD = [[17,26360],[10,7300],[10,5500],[10,3700],[10,1900],[40,6000],[40,4000],[40,2000],[70,2500],[100,1500],[10,0],[55,0],[100,0],[145,0],[190,0],[235,0],[280,0],[325,0],[370,0],[415,0],[460,0],[505,0],[550,0],[590,0],[720,0],[790,0],[840,0],[900,0],[960,0],[1000,0]];
const b_LEV_SIZE = [[0.06,26340],[0.3,7300],[1.5,5900],[2.8,3800],[4.8,3500],[0.5,5000],[1,3000],[2,2000],[0,500],[0.7,500],[1.4,500],[2.1,500],[2.8,500],[3.5,500],[4.2,500],[4.9,500],[5.6,500],[6.3,500],[7,500],[7.7,500],[8.4,500],[9.1,500],[9.8,500],[10.5,500],[11.2,500],[11.9,500],[12.6,500],[13.3,500],[14,500],[14.4,500]];
const b_LEV_MTB = [[15,26340],[0,7650],[0,5800],[0,4000],[0,2200],[0,500],[-1496,300],[-1249,300],[-1001,300],[-450,300],[-300,300],[-150,500],[150,300],[557,300],[1185,300],[-200,1500]];
const b_LEV_ADS = [[0.17,26340],[0,7650],[0,5800],[0,4000],[0,2200],[0,500],[0.06,500],[0.14,500],[0.22,500],[0.3,500],[0.38,500],[0.46,500],[0.54,500],[0.62,500],[0.7,500],[0.78,500],[0.82,500]];
const b_LEV_EXP = [[5,26340],[3,7500],[3,5500],[3,3500],[3,1500],[20,4500],[37,5900],[116,1740],[10,500],[25,500],[40,500],[55,500],[70,500],[85,500],[100,500],[115,500],[130,500],[145,500],[160,500],[175,500],[190,500],[205,500],[220,500],[249,300],[272,300]];
const b_LEV_SA = [[-1.6,26340],[-3.5,6930],[-1,6200],[-2,4800],[-9.5,4000],[-8.5,3500],[-7.5,3000],[-6,2800],[-0.5,3500],[-9.8,500],[-8.8,500],[-7.8,500],[-6.8,500],[-5.8,500],[-4.8,500],[-3.8,500],[-2.8,500],[-1.8,500],[-0.8,500],[0.2,500],[1.2,500],[2.2,500],[3.2,500],[4.2,500],[5.2,500],[6.2,500],[7.2,500],[8.2,500],[9.2,500],[10.2,500]];
const b_LEV_IBEI = [[-8133,26340],[-9422,300],[-9274,300],[-9094,300],[-8914,300],[-8734,300],[-8554,300],[-8374,300],[-8194,300],[-8014,300],[-7834,300],[-7654,300],[-7474,300],[-7294,300],[-7114,300],[-6934,300],[-6754,300],[-6574,300],[-6394,300],[-6214,300],[-6074,300],[-6200,7650],[-6100,6000],[-6300,4500],[-6100,3000],[-6400,2000],[-7400,1800],[-7000,2200]];
const b_LEV_CFO = [[0,26340],[-5268,300],[-4800,300],[-3900,300],[-3634,300],[-3300,300],[-2910,300],[-2730,300],[-2400,300],[-2100,300],[-1800,300],[-1500,300],[-1200,300],[-900,300],[-600,300],[-300,300],[0,300],[-100,7650],[-200,5500],[-300,3500],[0,4500],[-500,2000],[-1100,1500]];

const b_COGS_CA = [[0,0],[0,2400],[0,4800],[0,7200],[0,9600],[0,12000],[0,14400],[0,16800],[0,19200],[0,21600],[0,24000],[0,26400],[0,27550],[1,22330],[1,0],[1,2400],[1,4800],[1,7200],[1,9600],[1,12000],[1,13600],[2,0],[2,1500]];
const b_COGS_RD = [[10,0],[10,2400],[10,4800],[10,7200],[10,9600],[10,12000],[10,14000],[80,12000],[120,10000],[200,9000],[300,10500],[350,12500],[420,14500],[480,15500],[520,17000],[250,0],[320,0],[390,1500],[460,3500],[520,6000],[550,9000],[560,13000],[5,26570],[157,26570],[39,18430],[148,15400],[584,26130],[533,19000],[600,18430],[718,19000],[760,18000],[801,19000],[852,17000],[918,19500],[950,19500],[986,19500],[852,850],[970,850],[200,12500],[300,13500]];
const b_COGS_RD_dense = [[60,2500],[60,8000],[150,2500],[150,7000],[250,2500],[250,6500],[350,4500],[350,9000],[440,7000],[440,11500],[500,10500]];
const b_COGS_SIZE = [[0.5,26530],[2.6,26530],[3.7,26530],[4.9,26530],[5.9,26530],[6.9,26530],[7.9,26530],[2.6,20000],[8.8,22040],[7.0,20700],[3.2,25000],[9.2,10080],[0.3,4000],[0.3,8000],[8.3,6000],[8.5,3000],[1.5,14000],[3,15000],[6.5,15500],[7.5,14000],[8.8,800],[9.5,800],[10.2,800],[10.9,800],[11.6,800],[12.3,800],[13,800],[13.7,800],[14.4,800]];
const b_COGS_SIZE_dense = [[1,2500],[1,7500],[1,12000],[2.6,2500],[2.6,7500],[2.6,12000],[4.2,2500],[4.2,7500],[4.2,12000],[5.8,2500],[5.8,7500],[5.8,12000],[7.2,2500],[7.2,7500],[7.2,12000],[4.8,17000],[4.8,20500]];
const b_COGS_MTB = [[0,0],[0,2400],[0,4800],[0,7200],[0,9600],[0,12000],[0,14400],[0,16800],[0,19200],[0,21600],[0,24000],[0,26400],[-100,27200],[100,27200],[-80,20000],[80,15000],[-100,8000],[100,5000],[-150,2000],[150,1500],[-1496,500],[-1249,500],[-1001,500],[-450,500],[-300,800],[590,500],[1207,500]];
const b_COGS_ADS = [[0,0],[0,2400],[0,4800],[0,7200],[0,9600],[0,12000],[0,14400],[0,16800],[0,19200],[0,21600],[0,24000],[0,26400],[0.75,26530],[0.39,13500],[0.29,10400],[0.35,12000],[0.21,7000],[0.7,8200],[0.1,5800],[0.45,6000],[0.55,4500],[0.8,500],[0.8,2500],[0.15,4000],[0.6,3500]];
const b_COGS_ADS_dense = [[0.1,2000],[0.3,2000],[0.5,2000],[0.7,2000]];
const b_COGS_EXP = [[2,0],[2,2400],[2,4800],[2,7200],[2,9600],[2,12000],[2,14400],[2,16800],[2,19200],[2,21600],[2,24000],[2,26400],[10,27000],[12,20000],[12,15000],[37,10080],[116,10080],[180,5300],[40,5500],[70,6300],[100,6000],[130,5000],[160,4000],[240,1500],[231,500],[253,500],[220,3500]];
const b_COGS_EXP_dense = [[30,2000],[65,2000],[100,2000],[135,2000],[170,2000],[205,1800]];
const b_COGS_SA = [[-9.6,0],[-9.6,2400],[-9.6,4800],[-9.6,7200],[-9.6,9600],[-9.6,12000],[-9.6,14400],[-9.6,16800],[-9.6,19200],[-9.6,21600],[-9.6,24000],[-9.6,26400],[-9,27000],[-9,15000],[-9,8000],[-8.5,5000],[-8,3000],[-9,800],[-8,800],[-7,800],[-6,800],[-5,800],[-4,800],[-3,800],[-2,800],[-1,800],[0,800],[1,800],[2,800],[3,800],[4,800],[5,800],[6,800],[7,800],[8,800],[9,800],[10,800],[-7,2500],[-5,2000],[-3,1800],[1,1500],[5,1500]];
const b_COGS_IBEI = [[-9397,22040],[-9156,22040],[-8978,26800],[-8850,25500],[-8680,24500],[-8560,23000],[-8400,22000],[-8314,20670],[-8200,19000],[-8074,17260],[-7652,17950],[-7500,16000],[-7351,13880],[-8193,10430],[-7950,12000],[-7700,11000],[-7300,10000],[-7000,9000],[-6700,7500],[-6390,10430],[-6148,12480],[-6100,5000],[-6050,1500],[-9422,500],[-8978,500],[-8600,1500],[-8400,500]];
const b_COGS_IBEI_dense = [[-8000,8000],[-7600,6000],[-7200,4000],[-6800,3000],[-6400,2000],[-7800,2500],[-7400,1500],[-7000,1200],[-6200,800],[-8200,4500]];
const b_COGS_CFO = [[0,0],[0,2400],[0,4800],[0,7200],[0,9600],[0,12000],[0,14400],[0,16800],[0,19200],[0,21600],[0,24000],[0,26400],[-5087,22040],[-4545,22040],[-3542,26800],[-3450,24500],[-3300,22500],[-3150,20500],[-3000,18500],[-2950,17260],[-1366,26800],[-815,17950],[-2730,16600],[-2300,15500],[-1700,14500],[-1100,13500],[-500,13000],[-2700,10000],[-2800,3500],[-2900,8000],[-5087,500],[-3542,500],[-3100,500]];
const b_COGS_CFO_dense = [[-2500,12000],[-2000,10000],[-1500,9000],[-1000,8500],[-500,8000],[-2500,6000],[-1800,4000],[-1200,4000],[-600,3500],[-2300,1500],[-1500,1200],[-700,1000],[-200,2000],[-200,11000]];
const b_COGS_LEV = [[0,0],[0,2400],[0,4800],[0,7200],[0,9600],[0,12000],[0,14400],[0,16800],[0,19200],[0,21600],[0,24000],[0,26400],[800,500],[1600,500],[2400,500],[3200,500],[4000,500],[4800,500],[5600,500],[6400,500],[1200,1800],[2500,1500],[25300,500]];

const botCells = [
  [1, 0, b_RD_CA],
  [2, 0, b_SIZE_CA], [2, 1, b_SIZE_RD, b_SIZE_RD_dense],
  [3, 0, b_MTB_CA], [3, 1, b_MTB_RD], [3, 2, b_MTB_SIZE],
  [4, 0, b_ADS_CA], [4, 1, b_ADS_RD], [4, 2, b_ADS_SIZE, b_ADS_SIZE_dense], [4, 3, b_ADS_MTB],
  [5, 0, b_EXP_CA], [5, 1, b_EXP_RD, b_EXP_RD_dense], [5, 2, b_EXP_SIZE, b_EXP_SIZE_dense], [5, 3, b_EXP_MTB], [5, 4, b_EXP_ADS, b_EXP_ADS_dense],
  [6, 0, b_SA_CA], [6, 1, b_SA_RD], [6, 2, b_SA_SIZE, b_SA_SIZE_dense], [6, 3, b_SA_MTB, b_SA_MTB_dense], [6, 4, b_SA_ADS, b_SA_ADS_dense], [6, 5, b_SA_EXP],
  [7, 0, b_IBEI_CA], [7, 1, b_IBEI_RD, b_IBEI_RD_dense], [7, 2, b_IBEI_SIZE, b_IBEI_SIZE_dense], [7, 3, b_IBEI_MTB], [7, 4, b_IBEI_ADS, b_IBEI_ADS_dense], [7, 5, b_IBEI_EXP, b_IBEI_EXP_dense], [7, 6, b_IBEI_SA],
  [8, 0, b_CFO_CA], [8, 1, b_CFO_RD, b_CFO_RD_dense], [8, 2, b_CFO_SIZE, b_CFO_SIZE_dense], [8, 3, b_CFO_MTB], [8, 4, b_CFO_ADS, b_CFO_ADS_dense], [8, 5, b_CFO_EXP, b_CFO_EXP_dense], [8, 6, b_CFO_SA], [8, 7, b_CFO_IBEI, b_CFO_IBEI_dense],
  [9, 0, b_LEV_CA], [9, 1, b_LEV_RD], [9, 2, b_LEV_SIZE], [9, 3, b_LEV_MTB], [9, 4, b_LEV_ADS], [9, 5, b_LEV_EXP], [9, 6, b_LEV_SA], [9, 7, b_LEV_IBEI], [9, 8, b_LEV_CFO],
  [10, 0, b_COGS_CA], [10, 1, b_COGS_RD, b_COGS_RD_dense], [10, 2, b_COGS_SIZE, b_COGS_SIZE_dense], [10, 3, b_COGS_MTB], [10, 4, b_COGS_ADS, b_COGS_ADS_dense], [10, 5, b_COGS_EXP, b_COGS_EXP_dense], [10, 6, b_COGS_SA], [10, 7, b_COGS_IBEI, b_COGS_IBEI_dense], [10, 8, b_COGS_CFO, b_COGS_CFO_dense], [10, 9, b_COGS_LEV]
];

// ---------- layout ----------
const TOP = { left: 390, top: 29, w: 439, h: 277, n: 6, R: 11, R2: 20, pad: 90, yAxisW: 230, xAxisH: 70,
  tickLen: 10, tickPad: 14, tickFont: 36, labelFont: 44, line: '#555', vb: 2.5, hb: 3.5,
  vars: topVars, xMin: topXMin, xMax: topXMax, xTicks: topXTicks, xLabels: topXLabels,
  yMin: topYMin, yMax: topYMax, yTicks: topYTicks, yLabels: topYLabels, cells: topCells };
const BOT = { left: 103, top: 2019, w: 277, h: 162.5, n: 11, R: 7, R2: 20, pad: 60, yAxisW: 100, xAxisH: 40,
  tickLen: 6, tickPad: 5, tickFont: 22, labelFont: 25, line: '#9c9c9c', vb: 2, hb: 3,
  vars: botVars, xMin: botXMin, xMax: botXMax, xTicks: botXTicks, xLabels: botXLabels,
  yMin: botYMin, yMax: botYMax, yTicks: botYTicks, yLabels: botYLabels, cells: botCells };

function cellBox(p, r, c) {
  const x0 = Math.round(p.left + c * p.w), x1 = Math.round(p.left + (c + 1) * p.w);
  const y0 = Math.round(p.top + r * p.h), y1 = Math.round(p.top + (r + 1) * p.h);
  return { x0, x1, y0, y1 };
}

function axis(p, min, max, ticks, labels, show, horiz) {
  return {
    type: 'linear', min, max, bounds: 'data', display: show,
    afterBuildTicks: s => { s.ticks = ticks.map(v => ({ value: v })); },
    afterFit: s => {
      if (!show) return;
      if (horiz) { s.height = p.xAxisH; s.paddingLeft = 0; s.paddingRight = 0; }
      else { s.width = p.yAxisW; s.paddingTop = 0; s.paddingBottom = 0; }
    },
    ticks: {
      autoSkip: false, maxRotation: 0, minRotation: 0, padding: p.tickPad, color: '#333',
      font: { family: FONT, size: p.tickFont }, callback: (v, i) => labels[i]
    },
    grid: { display: true, drawOnChartArea: false, drawTicks: true, tickLength: p.tickLen, color: '#555', lineWidth: 2 },
    border: { display: false }
  };
}

function makeChart(p, r, c, pts, dense) {
  const b = cellBox(p, r, c);
  const showY = c === 0, showX = r === p.n - 1;
  const padL = p.pad + (showY ? p.yAxisW : 0);
  const padB = p.pad + (showX ? p.xAxisH : 0);
  const W = (b.x1 - b.x0) + padL + p.pad, H = (b.y1 - b.y0) + p.pad + padB;
  const cv = document.createElement('canvas');
  cv.width = W; cv.height = H;
  cv.style.left = (b.x0 - padL) + 'px'; cv.style.top = (b.y0 - p.pad) + 'px';
  cv.style.width = W + 'px'; cv.style.height = H + 'px';
  document.body.appendChild(cv);

  const datasets = [];
  if (dense) datasets.push({ data: dense, pointRadius: p.R2, pointBackgroundColor: DOT, pointBorderWidth: 0, clip: false });
  datasets.push({ data: pts, pointRadius: p.R, pointBackgroundColor: DOT, pointBorderWidth: 0, clip: false });

  new Chart(cv, {
    type: 'scatter',
    data: { datasets },
    options: {
      responsive: false, animation: false, devicePixelRatio: 1, events: [],
      layout: { padding: { left: p.pad, right: p.pad, top: p.pad, bottom: p.pad } },
      plugins: { legend: { display: false }, tooltip: { enabled: false } },
      scales: {
        x: axis(p, p.xMin[c], p.xMax[c], p.xTicks[c], p.xLabels[c], showX, true),
        y: axis(p, p.yMin[r], p.yMax[r], p.yTicks[r], p.yLabels[r], showY, false)
      }
    }
  });
}

function drawPanel(p) {
  for (let r = 0; r < p.n; r++) {
    for (let c = 0; c <= r; c++) {
      const b = cellBox(p, r, c);
      const f = document.createElement('div');
      f.className = 'frame';
      f.style.left = (b.x0 - p.vb / 2) + 'px';
      f.style.top = (b.y0 - p.hb / 2) + 'px';
      f.style.width = (b.x1 - b.x0 + p.vb) + 'px';
      f.style.height = (b.y1 - b.y0 + p.hb) + 'px';
      f.style.borderColor = p.line;
      f.style.borderWidth = p.hb + 'px ' + p.vb + 'px';
      document.body.appendChild(f);
      if (c === r) {
        const l = document.createElement('div');
        l.className = 'lbl';
        l.style.left = b.x0 + 'px'; l.style.top = b.y0 + 'px';
        l.style.width = (b.x1 - b.x0) + 'px'; l.style.height = (b.y1 - b.y0) + 'px';
        l.style.fontSize = p.labelFont + 'px';
        l.textContent = p.vars[r];
        document.body.appendChild(l);
      }
    }
  }
  p.cells.forEach(([r, c, pts, dense]) => makeChart(p, r, c, pts, dense));
}

drawPanel(TOP);
drawPanel(BOT);
</script>
</body>
</html>
